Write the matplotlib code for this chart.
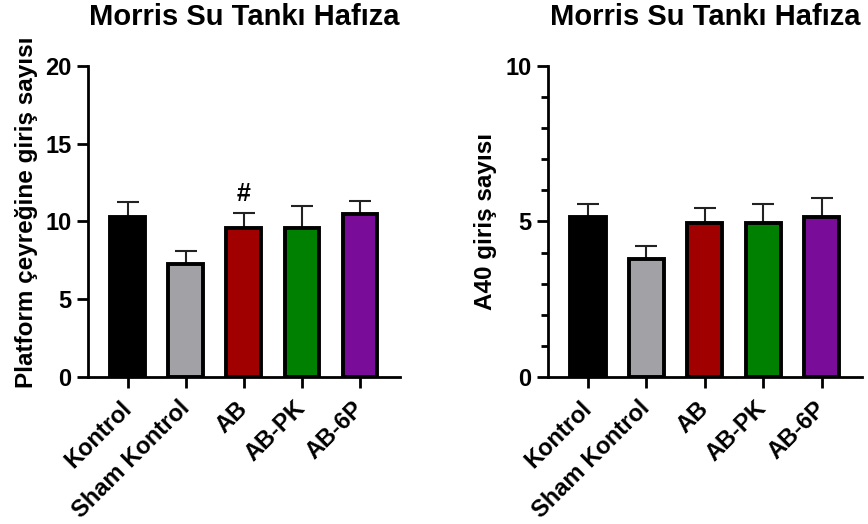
import matplotlib.pyplot as plt
import numpy as np

groups = ['Kontrol', 'Sham Kontrol', 'AB', 'AB-PK', 'AB-6P']
colors = ['#000000', '#A2A1A6', '#A00000', '#008000', '#790C99']

platform_mean = [10.3, 7.25, 9.6, 9.6, 10.45]
platform_err = [0.95, 0.85, 0.95, 1.4, 0.85]

a40_mean = [5.13, 3.78, 4.95, 4.95, 5.13]
a40_err = [0.42, 0.42, 0.47, 0.6, 0.63]

plt.rcParams['font.family'] = ['Liberation Sans', 'DejaVu Sans']

fig = plt.figure(figsize=(8.68, 5.24), dpi=100)
ax1 = fig.add_axes([0.101, 0.2805, 0.36, 0.594])
ax2 = fig.add_axes([0.631, 0.2805, 0.362, 0.594])


def draw(ax, mean, err, ymax, label):
    x = np.arange(len(groups))
    ax.errorbar(x, mean, yerr=[np.zeros(len(err)), err], fmt='none',
                ecolor='#222222', elinewidth=1.5, capsize=8, capthick=1.5, zorder=1)
    ax.bar(x, mean, width=0.6, color=colors, edgecolor='black', linewidth=2.8, zorder=2)
    ax.set_xlim(-0.69, 4.69)
    ax.set_ylim(0, ymax)
    ax.spines['top'].set_visible(False)
    ax.spines['right'].set_visible(False)
    ax.spines['left'].set_linewidth(2)
    ax.spines['bottom'].set_linewidth(2)
    ax.tick_params(axis='both', width=2, length=8, labelsize=17)
    ax.tick_params(axis='x', pad=12)
    ax.tick_params(axis='y', which='minor', width=2, length=5)
    ax.set_xticks(x)
    ax.set_xticklabels(groups, rotation=45, ha='right', va='center',
                       rotation_mode='anchor', fontweight='bold', fontsize=17)
    ax.set_ylabel(label, fontsize=17.5, fontweight='bold', labelpad=6)
    ax.set_title('Morris Su Tankı Hafıza', fontsize=21, fontweight='bold', pad=29)


draw(ax1, platform_mean, platform_err, 20, 'Platform çeyreğine giriş sayısı')
ax1.set_yticks([0, 5, 10, 15, 20])
for t in ax1.get_yticklabels():
    t.set_fontweight('bold')
ax1.yaxis.set_label_coords(-0.158, 0.53)
ax1.annotate('#', (2, platform_mean[2] + platform_err[2]), xytext=(0, 5),
             textcoords='offset points', ha='center', va='bottom',
             fontsize=18, fontweight='bold')

draw(ax2, a40_mean, a40_err, 10, 'A40 giriş sayısı')
ax2.set_yticks([0, 5, 10])
ax2.set_yticks(np.arange(0, 11, 1), minor=True)
for t in ax2.get_yticklabels():
    t.set_fontweight('bold')

fig.savefig('out.png', dpi=100)
